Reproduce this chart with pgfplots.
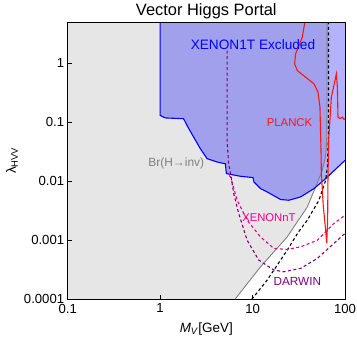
\documentclass[border=0pt]{standalone}
\usepackage{pgfplots}
\pgfplotsset{compat=1.18}
\usepackage{fontspec}
\setmainfont{Liberation Sans}
\definecolor{brgray}{RGB}{230,230,230}
\definecolor{xblue}{RGB}{0,0,255}
\definecolor{dpurple}{RGB}{128,0,128}
\definecolor{pred}{RGB}{255,20,20}

\begin{document}
\begin{tikzpicture}
\useasboundingbox (-67.7bp,-40.7bp) rectangle (289.3bp,299.3bp);
\begin{axis}[
  scale only axis, width=277.3bp, height=277.3bp,
  xmode=log, ymode=log,
  xmin=0.1, xmax=100, ymin=1e-4, ymax=5,
  xtick={0.1,1,10,100}, xticklabels={0.1,1,10,100},
  ytick={1e-4,1e-3,1e-2,0.1,1}, yticklabels={0.0001,0.001,0.01,0.1,1},
  xminorticks=false, yminorticks=false,
  tick align=inside, major tick length=4bp,
  xtick pos=bottom, ytick pos=left,
  tick style={black, line width=0.8bp},
  axis line style={line width=1bp},
  tick label style={font=\fontsize{13.2}{15}\selectfont},
  xticklabel style={yshift=-1bp},
  /pgf/number format/assume math mode=true,
  clip=true, axis on top,
]
% Br(H->inv) region
\addplot[fill=brgray, draw=none] coordinates {
  (0.1,1e-4) (6.45,1e-4) (12.2,3.56e-4) (23.7,1.14e-3) (39.1,3.68e-3)
  (48.1,8.0e-3) (56.9,0.0153) (61.5,0.026) (63.3,0.045) (63.9,0.15) (64,5) (0.1,5)
} -- cycle;
% XENON1T excluded region
\addplot[fill=xblue, fill opacity=0.3, draw=none] coordinates {
  (1.0,5) (1.0,0.1305) (1.136,0.1185) (1.794,0.1148) (1.953,0.0885) (2.303,0.0561)
  (2.722,0.0357) (3.219,0.0242) (4.13,0.0212) (5.08,0.0198) (5.21,0.0135)
  (7.39,0.01215) (10.1,0.01155) (10.35,0.00973) (12.2,0.00753) (14.4,0.00659)
  (20.1,0.00491) (24.7,0.00477) (33.1,0.00543) (46.2,0.00753) (61.8,0.0111)
  (100,0.0226) (100,5)
} -- cycle;
% Br line
\addplot[gray, line width=0.9bp] coordinates {
  (6.45,1e-4) (12.2,3.56e-4) (23.7,1.14e-3) (39.1,3.68e-3)
  (48.1,8.0e-3) (56.9,0.0153) (61.5,0.026) (63.3,0.045) (63.9,0.15) (64,5)
};
% XENON1T boundary
\addplot[xblue, line width=1.1bp] coordinates {
  (1.0,5) (1.0,0.1305) (1.136,0.1185) (1.794,0.1148) (1.953,0.0885) (2.303,0.0561)
  (2.722,0.0357) (3.219,0.0242) (4.13,0.0212) (5.08,0.0198) (5.21,0.0135)
  (7.39,0.01215) (10.1,0.01155) (10.35,0.00973) (12.2,0.00753) (14.4,0.00659)
  (20.1,0.00491) (24.7,0.00477) (33.1,0.00543) (46.2,0.00753) (61.8,0.0111)
  (100,0.0226)
};
% black dashed
\addplot[black, line width=1.1bp, dash pattern=on 3bp off 2.5bp] coordinates {
  (9.8,1e-4) (14.4,2.12e-4) (23.7,6.8e-4) (31.5,1.4e-3) (39.1,2.19e-3) (52.2,4.77e-3)
  (61.8,0.0104) (64.4,0.0175) (66,0.0493) (66.3,0.2) (66.3,5)
};
% XENONnT
\addplot[magenta, line width=1.1bp, dash pattern=on 3bp off 2.5bp] coordinates {
  (5.6,0.0125) (5.79,0.0118) (6.81,4.77e-3) (8.74,2.19e-3) (12.18,1.14e-3) (17.0,7.28e-4)
  (23.7,7.0e-4) (33.1,7.75e-4) (50.1,1.0e-3) (75.9,1.93e-3) (100,2.66e-3)
};
% DARWIN
\addplot[dpurple, line width=1.1bp, dash pattern=on 3bp off 2.5bp] coordinates {
  (5.30,1.64) (5.30,0.0494) (5.5,0.02) (5.79,0.0135) (6.25,6.19e-3) (7.09,2.84e-3)
  (8.74,1.0e-3) (11.67,4.62e-4) (17.0,3.13e-4) (21.8,2.93e-4) (33.1,3.34e-4)
  (50.1,4.93e-4) (75.9,8.85e-4) (100,1.31e-3)
};
% PLANCK
\addplot[pred, line width=1.1bp] coordinates {
  (36.8,5) (34.5,2.75) (29.2,1.44) (28.5,0.977) (30.5,0.753) (37.5,0.58)
  (46.2,0.448) (51,0.324) (53.6,0.180) (55,0.0334) (55.5,0.0135) (58.3,3.68e-3)
  (61.8,1.49e-3) (63.4,8.85e-4) (64.9,2.19e-3) (65.4,0.0104) (66.5,0.0493)
  (68.7,0.1077) (71.2,0.266) (77.3,0.478) (80.6,0.662) (82.7,0.393) (84,0.122)
  (88.3,0.115) (93.7,0.122) (97.5,0.112) (100,0.115)
};
\node[xblue, font=\fontsize{13.7}{15}\selectfont] at (axis cs:10.1,2.05) {XENON1T Excluded};
\node[pred, font=\fontsize{11.4}{13}\selectfont] at (axis cs:25.1,0.1006) {PLANCK};
\node[gray, font=\fontsize{12}{13}\selectfont] at (axis cs:1.495,0.0199) {Br(H→inv)};
\node[magenta, font=\fontsize{11.3}{13}\selectfont] at (axis cs:15.0,2.43e-3) {XENONnT};
\node[dpurple, font=\fontsize{11.8}{13}\selectfont] at (axis cs:30.5,1.99e-4) {DARWIN};
\end{axis}
\node[font=\fontsize{16.5}{18}\selectfont] at (138.6bp,288.3bp) {Vector Higgs Portal};
\node[font=\fontsize{13.5}{15}\selectfont] at (138.6bp,-29.7bp) {\textit{M}\textsubscript{\textit{V}}[GeV]};
\node[font=\fontsize{13.5}{15}\selectfont, rotate=90] at (-55.7bp,138.6bp) {λ\textsubscript{HVV}};
\end{tikzpicture}
\end{document}
